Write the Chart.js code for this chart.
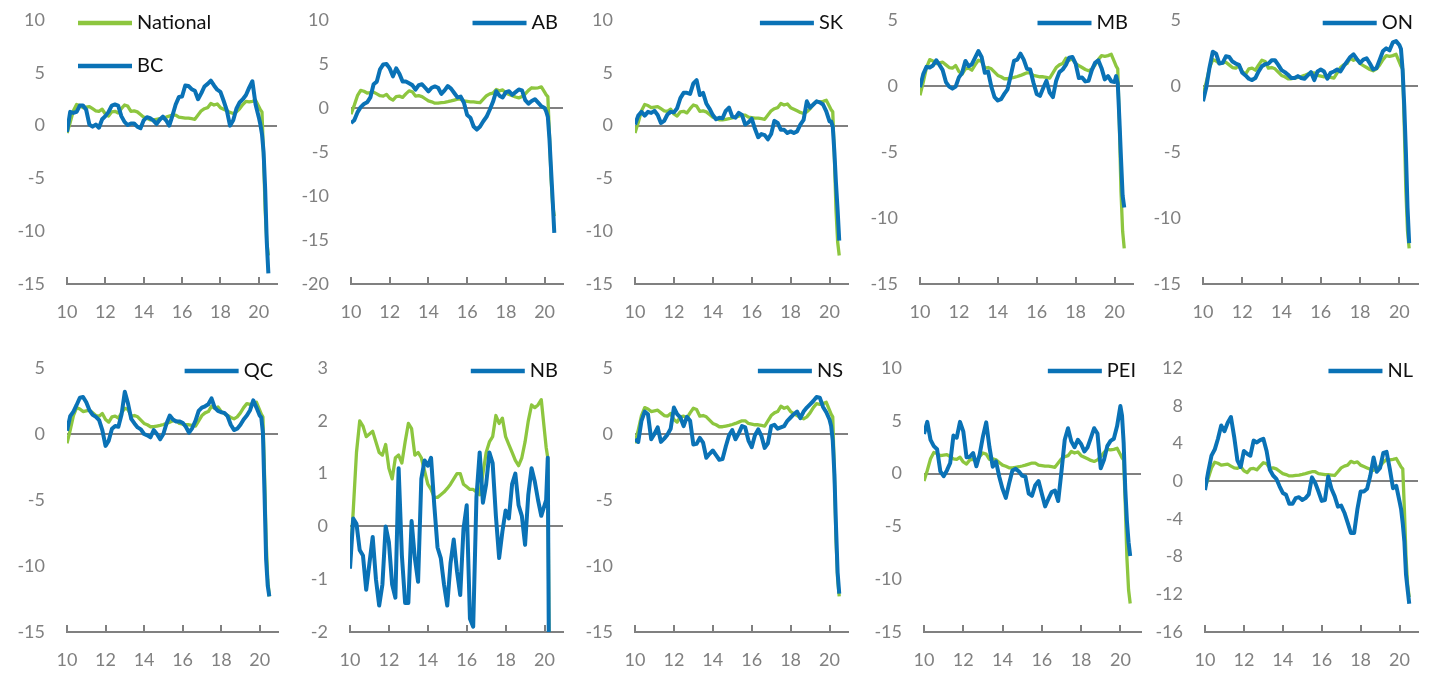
<!DOCTYPE html>
<html>
<head>
<meta charset="utf-8">
<script src="https://cdn.jsdelivr.net/npm/chart.js@4.4.0/dist/chart.umd.min.js"></script>
<style>
  body { margin: 0; background: #fff; width: 1429px; height: 677px; overflow: hidden; position: relative; }
  canvas { position: absolute; }
</style>
</head>
<body>
<script>
// sample dates: every 2 months to end of 2019, then monthly through the 2020 drop
const dates = [
  '2010-01','2010-03','2010-05','2010-07','2010-09','2010-11',
  '2011-01','2011-03','2011-05','2011-07','2011-09','2011-11',
  '2012-01','2012-03','2012-05','2012-07','2012-09','2012-11',
  '2013-01','2013-03','2013-05','2013-07','2013-09','2013-11',
  '2014-01','2014-03','2014-05','2014-07','2014-09','2014-11',
  '2015-01','2015-03','2015-05','2015-07','2015-09','2015-11',
  '2016-01','2016-03','2016-05','2016-07','2016-09','2016-11',
  '2017-01','2017-03','2017-05','2017-07','2017-09','2017-11',
  '2018-01','2018-03','2018-05','2018-07','2018-09','2018-11',
  '2019-01','2019-03','2019-05','2019-07','2019-09','2019-11',
  '2020-01','2020-02','2020-03','2020-04','2020-05','2020-06','2020-07'
];

const national = [
  -0.7, 0.3, 1.4, 2.0, 1.9, 1.7,
  1.75, 1.8, 1.6, 1.4, 1.35, 1.55,
  1.1, 0.9, 1.3, 1.35, 1.2, 1.6,
  1.95, 1.85, 1.35, 1.4, 1.3, 1.05,
  0.8, 0.7, 0.55, 0.55, 0.6, 0.65,
  0.72, 0.8, 0.9, 1.0, 1.0, 0.8,
  0.75, 0.7, 0.7, 0.65, 0.6, 1.0,
  1.4, 1.6, 1.7, 2.1, 1.95, 2.05,
  1.7, 1.55, 1.4, 1.25, 1.15, 1.3,
  1.6, 2.0, 2.3, 2.25, 2.3, 2.4,
  1.8, 1.5, 1.3, -3, -8, -11, -12.3
];

const bc = [
  -0.6, 1.3, 1.2, 1.3, 1.9, 1.9,
  1.5, 0.1, -0.1, 0.1, -0.2, 0.6,
  0.9, 1.3, 1.9, 2.0, 1.9, 0.9,
  0.35, 0.05, 0.2, 0.2, -0.1, -0.25,
  0.5, 0.8, 0.7, 0.5, 0.15, 0.55,
  0.85, 0.5, 0.0, 0.95, 2.0, 2.7,
  2.75, 3.8, 3.75, 3.45, 3.3, 2.5,
  3.05, 3.7, 3.95, 4.25, 3.8, 3.4,
  3.2, 2.35, 1.45, 0.0, 0.5, 1.6,
  2.2, 2.5, 2.9, 3.6, 4.2, 2.0,
  0.8, 0.1, -0.8, -2.5, -6, -11, -14
];

const ab = [
  -1.7, -1.4, -0.5, 0.1, 0.45, 0.65,
  1.2, 2.7, 3.0, 4.4, 4.95, 5.0,
  4.5, 3.6, 4.5, 3.9, 3.0, 3.0,
  2.8, 2.6, 2.1, 2.6, 2.7, 2.3,
  1.9, 2.3, 2.45, 2.3, 1.6, 2.0,
  2.5, 2.2, 1.7, 1.2, 1.3, 0.6,
  -0.8, -1.1, -2.1, -2.45, -2.1, -1.5,
  -1.0, -0.2, 0.7, 1.9, 1.4, 1.2,
  1.8, 1.9, 1.5, 1.8, 2.1, 2.0,
  0.9, 0.5, 0.8, 1.0, 0.6, 0.2,
  0, -0.4, -1.0, -3.5, -7, -10.5, -14.2
];

const sk = [
  0.1, 0.95, 1.3, 0.95, 1.3, 1.2,
  1.4, 1.0, 0.25, 0.45, 1.05, 1.3,
  1.25, 1.65, 2.6, 3.1, 3.1, 3.0,
  4.0, 4.3, 2.9, 3.1, 2.1, 1.6,
  1.0, 0.6, 0.75, 0.7, 1.4, 1.7,
  0.85, 0.75, 1.2, 1.0, 0.1, 0.3,
  0.65, -0.3, -1.1, -0.8, -0.9, -1.3,
  -0.8, 0.45, 0.25, -0.4, -0.4, -0.7,
  -0.55, -0.7, -0.55, 0.1, 0.55, 2.3,
  1.7, 2.0, 2.3, 2.2, 2.0, 1.35,
  0.4, 0.4, -0.1, -2.5, -5.5, -8, -10.9
];

const mb = [
  -0.1, 0.9, 1.45, 1.4, 1.55, 1.95,
  1.6, 1.2, 0.3, -0.05, -0.2, -0.05,
  0.65, 1.0, 1.9, 1.5, 1.65, 2.15,
  2.65, 2.2, 1.0, 1.1, -0.05, -0.85,
  -1.1, -1.0, -0.6, -0.25, 0.8, 1.9,
  2.0, 2.45, 2.0, 1.3, 1.25, 0.25,
  -0.6, -0.75, -0.15, 0.4, -0.5, -0.85,
  0.4, 1.05, 1.25, 1.6, 2.15, 2.2,
  1.7, 0.6, 0.65, 0.35, 0.4, 1.2,
  1.75, 1.95, 1.35, 0.5, 0.75, 0.35,
  0.3, 0.75, 0.2, -2.5, -5.5, -8.3, -9.2
];

const on = [
  -1.15, -0.1, 1.4, 2.6, 2.45, 1.7,
  1.75, 2.25, 2.2, 1.85, 1.7, 1.6,
  1.0, 0.8, 0.55, 0.45, 0.6, 1.1,
  1.5, 1.65, 1.7, 1.95, 1.95, 1.6,
  1.2, 1.05, 0.85, 0.6, 0.6, 0.75,
  0.6, 0.55, 0.8, 1.05, 0.45, 1.1,
  1.25, 1.1, 0.55, 1.0, 1.1, 1.25,
  1.1, 1.5, 1.85, 2.2, 2.4, 2.05,
  1.75, 2.0, 2.1, 1.7, 1.25, 1.35,
  2.0, 2.65, 2.85, 2.7, 3.3, 3.4,
  3.1, 2.8, 1.2, -1.5, -5, -9.2, -11.9
];

const qc = [
  0.25, 1.35, 1.7, 2.2, 2.75, 2.8,
  2.4, 1.8, 1.45, 1.3, 1.05, 0.3,
  -0.9, -0.5, 0.4, 0.6, 0.55, 1.5,
  3.2, 2.3, 1.15, 0.8, 0.5, 0.35,
  0.0, -0.1, -0.25, 0.3, 0.0, -0.4,
  0.0, 0.8, 1.4, 1.1, 0.95, 0.95,
  0.85, 0.55, 0.1, 0.45, 1.0, 1.75,
  2.0, 2.1, 2.25, 2.7, 2.0, 1.75,
  1.65, 1.6, 1.35, 0.7, 0.3, 0.4,
  0.7, 1.1, 1.4, 1.8, 2.55, 2.0,
  1.4, 1.25, 0.1, -4.5, -9.5, -11.5, -12.3
];

const nb = [
  -0.8, 0.15, 0.05, -0.45, -0.55, -1.2,
  -0.7, -0.2, -1.0, -1.5, -1.1, 0.0,
  -0.3, -1.1, -1.35, 1.1, -0.55, -1.45,
  -1.45, 0.1, -0.6, -1.05, 0.9, 1.25,
  1.15, 1.3, 0.4, -0.4, -0.6, -1.1,
  -1.5, -0.7, -0.25, -0.85, -1.3, -0.05,
  0.4, -1.75, -1.9, 0.55, 1.4, 0.45,
  0.8, 1.4, 1.2, 0.2, -0.6, -0.1,
  0.3, 0.15, 0.8, 1.0, 0.4, 0.2,
  -0.35, 0.6, 1.1, 0.85, 0.5, 0.2,
  0.4, 0.5, 1.3, -4, -8, -10, -11
];

const ns = [
  -0.4, -0.6, 1.0, 1.7, 1.5, -0.4,
  0.0, 0.5, -0.6, -0.35, -0.05, 0.4,
  2.0, 1.5, 1.25, 0.6, 1.3, 1.0,
  -0.8, -0.75, -0.3, -0.65, -1.8, -1.5,
  -1.25, -1.6, -1.95, -1.9, -0.95, -0.1,
  0.3, -0.4, 0.05, 0.6, 0.5, -0.5,
  -1.0, -0.1, 0.35, -0.15, -1.05, -0.7,
  0.6, 0.7, 0.4, 0.5, 0.6, 1.0,
  1.25, 1.5, 1.7, 1.2, 1.7, 2.0,
  2.25, 2.5, 2.8, 2.75, 2.05, 1.65,
  1.1, 0.6, -0.5, -3, -7, -10.5, -12.1
];

const pei = [
  3.75, 4.9, 3.2, 2.6, 2.3, 0.2,
  -0.25, 0.3, 1.0, 3.6, 3.4, 4.9,
  4.0, 1.55, 1.6, 1.95, 0.7, 1.8,
  3.5, 4.85, 2.5, 0.65, 1.15, -0.3,
  -1.45, -2.3, -0.95, 0.3, 0.45, 0.2,
  -0.2, -0.3, -1.9, -2.1, -1.1, -0.7,
  -1.9, -3.1, -2.4, -1.75, -1.6, -2.6,
  0.2, 3.2, 4.3, 3.05, 2.5, 3.2,
  2.8, 2.1, 2.5, 3.4, 4.3, 3.8,
  0.5, 1.3, 2.6, 3.1, 3.3, 4.5,
  6.4, 5.5, 2.9, -1.5, -4.5, -6.5, -7.8
];

const nl = [
  -0.95, 1.0, 2.7, 3.35, 4.5, 5.9,
  5.3, 6.2, 6.8, 4.7, 2.2, 1.5,
  3.2, 2.9, 2.7, 4.3, 4.1, 4.35,
  4.5, 3.2, 1.2, 0.6, 0.25, -0.55,
  -1.25, -1.45, -2.4, -2.4, -1.8, -1.7,
  -2.0, -1.8, -1.4, 0.4, -0.2, -1.1,
  -2.1, -2.0, 0.5, -0.8, -1.6, -2.7,
  -2.6, -3.35, -4.4, -5.5, -5.5, -3.0,
  -1.1, -1.1, -0.8, 0.6, 2.5, 1.0,
  1.4, 3.0, 3.1, 1.3, -0.75, -0.5,
  -2.15, -3.0, -4.5, -6.4, -9.9, -11.5, -13.0
];

const GREEN = '#8dc63f';
const BLUE = '#0a72b6';
const GREY = '#808080';
const FONT = 'Lato';

// left/right = chart area edges on the page
const panels = [
  {name: 'BC',  values: bc,  yMin: -15, yMax: 10, step: 5, left: 67,   right: 277,  row: 0, showNational: true},
  {name: 'AB',  values: ab,  yMin: -20, yMax: 10, step: 5, left: 351,  right: 563,  row: 0},
  {name: 'SK',  values: sk,  yMin: -15, yMax: 10, step: 5, left: 635,  right: 848,  row: 0},
  {name: 'MB',  values: mb,  yMin: -15, yMax: 5,  step: 5, left: 920,  right: 1133, row: 0},
  {name: 'ON',  values: on,  yMin: -15, yMax: 5,  step: 5, left: 1203, right: 1418, row: 0},
  {name: 'QC',  values: qc,  yMin: -15, yMax: 5,  step: 5, left: 67,   right: 278,  row: 1},
  {name: 'NB',  values: nb,  yMin: -2,  yMax: 3,  step: 1, left: 350,  right: 563,  row: 1},
  {name: 'NS',  values: ns,  yMin: -15, yMax: 5,  step: 5, left: 635,  right: 848,  row: 1},
  {name: 'PEI', values: pei, yMin: -15, yMax: 10, step: 5, left: 924,  right: 1141, row: 1, xMax: 21.05},
  {name: 'NL',  values: nl,  yMin: -16, yMax: 12, step: 4, left: 1205, right: 1418, row: 1}
];

function toYear(d) {
  const [y, m] = d.split('-');
  return +y - 2000 + (m - 1) / 12;
}
const xs = dates.map(toYear);
const toPoints = arr => arr.map((v, i) => ({x: xs[i], y: v}));

// short tick marks pointing up into the plot
const innerTicks = {
  id: 'innerTicks',
  beforeDatasetsDraw(chart) {
    const {ctx, chartArea} = chart;
    const x = chart.scales.x;
    ctx.save();
    ctx.strokeStyle = GREY;
    ctx.lineWidth = 2;
    x.ticks.forEach(t => {
      const px = Math.round(x.getPixelForValue(t.value));
      ctx.beginPath();
      ctx.moveTo(px, chartArea.bottom);
      ctx.lineTo(px, chartArea.bottom - 7);
      ctx.stroke();
    });
    ctx.restore();
  }
};

function legendFor(p) {
  return {
    id: 'panelLegend',
    afterDraw(chart) {
      const {ctx, chartArea} = chart;
      ctx.save();
      ctx.font = '20px ' + FONT;
      ctx.textBaseline = 'middle';
      ctx.lineWidth = 4.5;
      const drawItem = (label, color, lineX, textX, y) => {
        ctx.strokeStyle = color;
        ctx.beginPath();
        ctx.moveTo(lineX, y);
        ctx.lineTo(lineX + 54, y);
        ctx.stroke();
        ctx.fillStyle = '#111';
        ctx.fillText(label, textX, y);
      };
      if (p.showNational) {
        const x0 = chartArea.left + 11;
        drawItem('National', GREEN, x0, x0 + 59, 23);
        drawItem(p.name, BLUE, x0, x0 + 59, 66);
      } else {
        const w = ctx.measureText(p.name).width;
        const textX = chartArea.right - 5 - w;
        drawItem(p.name, BLUE, textX - 59, textX, 23);
      }
      ctx.restore();
    }
  };
}

panels.forEach(p => {
  const canvas = document.createElement('canvas');
  const width = p.right - p.left + 74;
  canvas.width = width;
  canvas.height = 330;
  canvas.style.left = (p.left - 67) + 'px';
  canvas.style.top = (p.row * 348) + 'px';
  document.body.appendChild(canvas);

  new Chart(canvas, {
    type: 'line',
    data: {
      datasets: [
        {label: p.name, data: toPoints(p.values), borderColor: BLUE, borderWidth: 4,
         pointRadius: 0, borderJoinStyle: 'round', tension: 0},
        {label: 'National', data: toPoints(national), borderColor: GREEN, borderWidth: 3.3,
         pointRadius: 0, borderJoinStyle: 'round', tension: 0}
      ]
    },
    options: {
      responsive: false,
      animation: false,
      layout: {padding: {top: 20, right: 7, left: 0, bottom: 0}},
      plugins: {legend: {display: false}, tooltip: {enabled: false}},
      scales: {
        x: {
          type: 'linear',
          min: 10,
          max: p.xMax || 20.95,
          grid: {display: false},
          border: {color: GREY, width: 2},
          ticks: {stepSize: 2, includeBounds: false, padding: 9, color: GREY, maxRotation: 0,
                  font: {family: FONT, size: 18}},
          afterFit: s => { s.height = 46; }
        },
        y: {
          min: p.yMin,
          max: p.yMax,
          grid: {
            color: c => (c.tick && c.tick.value === 0) ? GREY : 'rgba(0,0,0,0)',
            lineWidth: 2,
            drawTicks: false
          },
          border: {display: false},
          ticks: {stepSize: p.step, padding: 22, color: GREY, font: {family: FONT, size: 18}},
          // tick padding would otherwise push the plot top down
          afterFit: s => { s.width = 67; s.paddingTop = 11; s.paddingBottom = 11; }
        }
      }
    },
    plugins: [innerTicks, legendFor(p)]
  });
});
</script>
</body>
</html>
